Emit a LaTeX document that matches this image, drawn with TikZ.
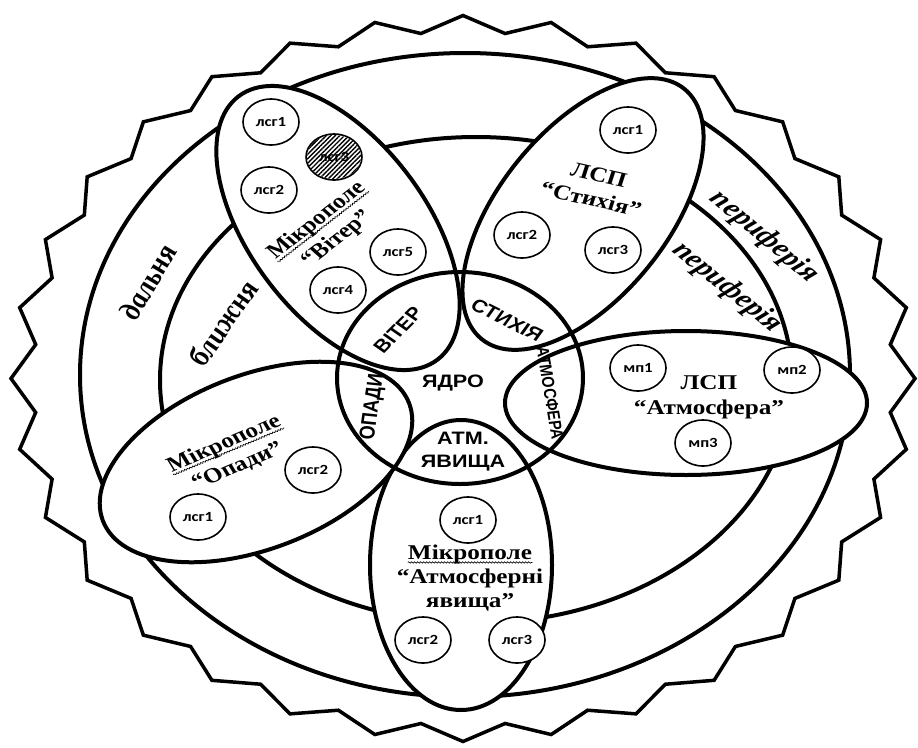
\documentclass[tikz,border=0pt]{standalone}
\usepackage{fontspec}
\setmainfont{Liberation Serif}
\newfontfamily\capsfont{Liberation Sans}
\newfontfamily\lsgfont{Carlito}
\usepackage{graphicx}
\usetikzlibrary{shapes.geometric,patterns.meta,decorations.pathmorphing}

\newcommand{\wide}[1]{\scalebox{1.2}[1]{#1}}
\newcommand{\wavy}[1]{\tikz[baseline=(w.base)]{\node[inner sep=0pt] (w) {#1};
	\draw[line width=0.6pt,decorate,decoration={snake,amplitude=0.7pt,segment length=2.5pt}]
	([yshift=-3pt]w.base west) -- ([yshift=-3pt]w.base east);}}

\begin{document}
\begin{tikzpicture}[x=1pt,y=1pt,
		seal/.style={line width=3.5pt,fill=white},
		zone/.style={line width=4pt},
		petal/.style={ellipse,draw,line width=4pt,fill=white,inner sep=0pt},
		lsg/.style={ellipse,draw,line width=1.6pt,fill=white,inner sep=0pt,
			minimum width=56pt,minimum height=46pt,
			font=\lsgfont\bfseries\fontsize{14}{14}\selectfont},
		fieldname/.style={align=center,inner sep=0pt,xscale=1.2,
			font=\bfseries\fontsize{21}{25}\selectfont},
		corename/.style={align=center,inner sep=0pt,xscale=1.2,
			font=\capsfont\bfseries\fontsize{18}{23}\selectfont},
		zonename/.style={inner sep=0pt,xscale=1.2,
			font=\bfseries\itshape\fontsize{26}{30}\selectfont}]
		\useasboundingbox (0,0) rectangle (918,-747);

		% seal and the two zones
		\draw[seal] plot[samples at={0,...,63},variable=\k]
			({463+452*(1-0.05*mod(\k,2))*cos(\k*5.625)},
			 {-378.5+363*(1-0.045*mod(\k,2))*sin(\k*5.625)}) -- cycle;
		\draw[zone] (465,-375) ellipse [x radius=385, y radius=322];
		\draw[zone] (476,-380) ellipse [x radius=316, y radius=243];

		% petals
		\node[petal,minimum width=330pt,minimum height=176pt,rotate=-53] (viter) at (338,-228) {};
		\node[petal,minimum width=322pt,minimum height=168pt,rotate=51] (stykhiia) at (583,-214) {};
		\node[petal,minimum width=362pt,minimum height=144pt] (atmosfera) at (686,-403) {};
		\node[petal,minimum width=182pt,minimum height=290pt] (yavyshcha) at (461,-565) {};
		\node[petal,minimum width=328pt,minimum height=174pt,rotate=21] (opady) at (256,-462) {};

		\node[ellipse,draw,line width=4pt,inner sep=0pt,
			minimum width=246pt,minimum height=212pt] (core) at (460,-378) {};

		% Viter
		\node[lsg] (v1) at (271,-122) {\wide{лсг1}};
		\node[lsg] (v3) at (334,-157) {\wide{лсг3}};
		\path[pattern={Lines[angle=45,distance=3.2pt,line width=1.4pt]}] (v3) ellipse [x radius=27, y radius=22];
		\node[lsg] (v2) at (269,-190) {\wide{лсг2}};
		\node[lsg] (v5) at (398,-252) {\wide{лсг5}};
		\node[lsg] (v4) at (338,-290) {\wide{лсг4}};
		\node[fieldname,rotate=43] (vname) at (327,-230) {\wavy{Мікрополе}\\“Вітер”};

		% Stykhiia
		\node[lsg] (s1) at (628,-130) {\wide{лсг1}};
		\node[lsg] (s2) at (522,-235) {\wide{лсг2}};
		\node[lsg] (s3) at (613,-250) {\wide{лсг3}};
		\node[fieldname,rotate=-15] (sname) at (595,-187) {ЛСП\\“Стихія”};

		% Atmosfera
		\node[lsg] (a1) at (638,-368) {\wide{мп1}};
		\node[lsg] (a2) at (792,-370) {\wide{мп2}};
		\node[lsg] (a3) at (703,-443) {\wide{мп3}};
		\node[fieldname] (aname) at (709,-397) {ЛСП\\“Атмосфера”};

		% Atm. yavyshcha
		\node[lsg] (y1) at (468,-520) {\wide{лсг1}};
		\node[lsg] (y2) at (423,-640) {\wide{лсг2}};
		\node[lsg] (y3) at (517,-640) {\wide{лсг3}};
		\node[fieldname,font=\bfseries\fontsize{21}{24}\selectfont] (yname) at (470,-578) {\wavy{Мікрополе}\\“Атмосферні\\явища”};

		% Opady
		\node[lsg] (o1) at (198,-517) {\wide{лсг1}};
		\node[lsg] (o2) at (313,-470) {\wide{лсг2}};
		\node[fieldname,rotate=27] (oname) at (231,-455) {\wavy{Мікрополе}\\“Опади”};

		% core
		\node[corename] (kernel) at (453,-383) {ЯДРО};
		\node[corename,rotate=50] (kviter) at (398,-330) {ВІТЕР};
		\node[corename,rotate=-31] (kstykhiia) at (507,-320) {СТИХІЯ};
		\node[corename,rotate=-82,font=\capsfont\bfseries\fontsize{14.5}{17}\selectfont] (katmosfera) at (550,-393) {АТМОСФЕРА};
		\node[corename,rotate=83] (kopady) at (373,-407) {ОПАДИ};
		\node[corename] (kyavyshcha) at (463,-452) {АТМ.\\ЯВИЩА};

		% zones
		\node[zonename,rotate=64] (far) at (148,-282) {дальня};
		\node[zonename,rotate=60] (near) at (223,-323) {ближня};
		\node[zonename,rotate=-45] (farp) at (764,-237) {периферія};
		\node[zonename,rotate=-44] (nearp) at (727,-288) {периферія};
	\end{tikzpicture}
\end{document}
